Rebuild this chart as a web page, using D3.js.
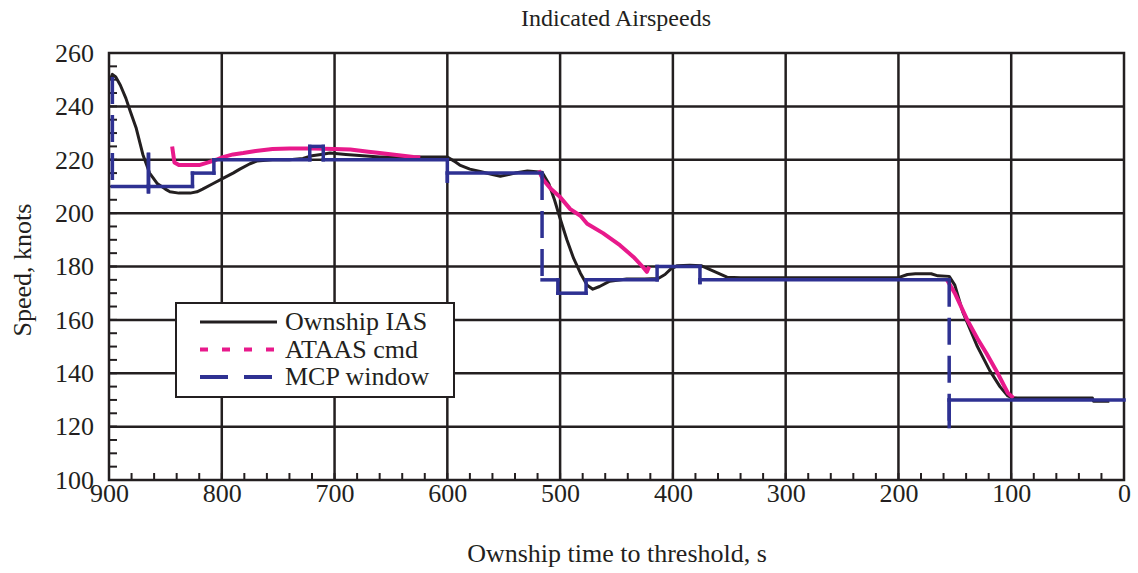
<!DOCTYPE html>
<html>
<head>
<meta charset="utf-8">
<script src="https://cdn.jsdelivr.net/npm/d3@7"></script>
<style>
  body { margin: 0; background: #fff; }
  text { font-family: "Liberation Serif", "Times New Roman", serif; fill: #231f20; }
</style>
</head>
<body>
<svg></svg>
<script>
// time to threshold (s) and speed (knots)
const iasTime = [899, 897, 894, 890, 885, 881, 876, 870, 864, 857, 850, 846, 838, 828, 822, 817, 808, 799, 790, 784, 775, 769, 755, 740, 728, 720, 712, 704, 690, 675, 660, 640, 615, 600, 594, 589, 580, 570, 560, 553, 540, 529, 516, 510, 505, 500, 494, 488, 482, 476, 471, 465, 456, 441, 425, 413, 407, 402, 396, 385, 375, 368, 360, 352, 340, 300, 250, 200, 192, 185, 171, 165, 155, 150, 143, 137, 130, 119, 110, 103, 99, 90, 60, 28, 27, 13];
const iasSpeed = [250, 252, 251, 248, 243, 238, 232, 222, 215, 211, 209, 208, 207.5, 207.5, 208, 209, 211, 213, 215, 216.5, 218.5, 219.5, 220, 220, 220.5, 221.5, 222, 222.5, 222, 221.5, 221, 221, 221, 221, 219.5, 218, 216.5, 215.5, 214.5, 213.8, 215, 215.8, 215.3, 211, 205, 198, 190, 183, 177.5, 173, 171.5, 172.5, 174.5, 175.3, 175.3, 175.5, 177, 179, 180.3, 180.5, 180.3, 179, 177.5, 176, 175.8, 175.8, 175.8, 175.8, 177, 177.3, 177.3, 176.5, 176.3, 173, 163, 157, 150, 141, 135, 131.5, 130.8, 130.7, 130.7, 130.7, 129.5, 129.5];

// null = no ATAAS command shown
const ataasTime = [844, 842, 838, 820, 812, 805, 799, 790, 781, 770, 755, 740, 720, 700, 686, 670, 660, 645, 630, 624, 610, 519, 515, 508, 500, 491, 482, 476, 462, 447, 435, 427, 423, 421, 300, 157, 150, 139, 130, 122, 112, 103, 98];
const ataasSpeed = [225, 219, 218, 218, 219, 220, 221, 222, 222.5, 223.3, 224, 224.2, 224.2, 224, 223.8, 223, 222.5, 221.8, 221, 220.8, null, 216, 212.5, 209, 206, 201.5, 199, 196, 192.5, 188, 183.6, 180, 178, 180, null, 175, 170, 160, 153, 147.5, 140, 132.6, 130.7];

const mcpTime = [897, 897, 865, 865, 865, 865, 826, 826, 807, 807, 722, 722, 710, 710, 600, 600, 600, 516, 516, 502, 502, 477, 477, 414, 414, 376, 376, 376, 155, 155, 155, 0];
const mcpSpeed = [251, 210, 210, 222, 208, 210, 210, 215, 215, 220, 220, 225, 225, 220, 220, 212, 215, 215, 175, 175, 170, 170, 175, 175, 180, 180, 174, 175, 175, 120, 130, 130];

const timeTicks = [900, 800, 700, 600, 500, 400, 300, 200, 100, 0];
const speedTicks = [100, 120, 140, 160, 180, 200, 220, 240, 260];

const legendLabels = ["Ownship IAS", "ATAAS cmd", "MCP window"];

const ink = "#231f20";
const pink = "#e8198b";
const navy = "#2e3192";

const svg = d3.select("svg").attr("width", 1138).attr("height", 573);

const x = d3.scaleLinear().domain([900, 0]).range([109, 1124]);
const y = d3.scaleLinear().domain([100, 260]).range([480, 53]);

// grid
svg.append("g").selectAll("line").data(timeTicks.slice(1, -1)).join("line")
    .attr("x1", d => x(d)).attr("x2", d => x(d))
    .attr("y1", y(260)).attr("y2", y(100))
    .attr("stroke", ink).attr("stroke-width", 2.5);
svg.append("g").selectAll("line").data(speedTicks.slice(1, -1)).join("line")
    .attr("x1", x(900)).attr("x2", x(0))
    .attr("y1", d => y(d)).attr("y2", d => y(d))
    .attr("stroke", ink).attr("stroke-width", 2.5);

// minor ticks
svg.append("g").selectAll("line").data(d3.range(100, 261, 5)).join("line")
    .attr("x1", x(900)).attr("x2", x(900) + 8)
    .attr("y1", d => y(d)).attr("y2", d => y(d))
    .attr("stroke", ink).attr("stroke-width", 2);
svg.append("g").selectAll("line").data(d3.range(0, 901, 20)).join("line")
    .attr("x1", d => x(d)).attr("x2", d => x(d))
    .attr("y1", y(100)).attr("y2", y(100) - 7)
    .attr("stroke", ink).attr("stroke-width", 2);

// frame
svg.append("rect")
    .attr("x", x(900)).attr("y", y(260))
    .attr("width", x(0) - x(900)).attr("height", y(100) - y(260))
    .attr("fill", "none").attr("stroke", ink).attr("stroke-width", 2.5);

// axes
const yAxis = svg.append("g")
    .attr("transform", `translate(${x(900)},0)`)
    .call(d3.axisLeft(y).tickValues(speedTicks).tickSize(0).tickPadding(15));
const xAxis = svg.append("g")
    .attr("transform", `translate(0,${y(100)})`)
    .call(d3.axisBottom(x).tickValues(timeTicks).tickFormat(d3.format("d")).tickSize(0).tickPadding(4));
[yAxis, xAxis].forEach(g => {
    g.select(".domain").remove();
    g.selectAll("text").attr("font-size", 26).attr("fill", ink)
        .style("font-family", '"Liberation Serif", serif');
});

// series
const ias = iasTime.map((t, i) => ({t: t, v: iasSpeed[i]}));
const ataas = ataasTime.map((t, i) => ({t: t, v: ataasSpeed[i]}));
const mcp = mcpTime.map((t, i) => ({t: t, v: mcpSpeed[i]}));

const line = d3.line()
    .defined(d => d.v != null)
    .x(d => x(d.t)).y(d => y(d.v));

svg.append("path").datum(ias)
    .attr("d", line)
    .attr("fill", "none").attr("stroke", ink).attr("stroke-width", 3)
    .attr("stroke-linejoin", "round");

svg.append("path").datum(ataas)
    .attr("d", line)
    .attr("fill", "none").attr("stroke", pink).attr("stroke-width", 4)
    .attr("stroke-linejoin", "round");

// MCP window: steps, long verticals show the dash pattern
const isLongDrop = d => d[0].t === d[1].t && Math.abs(y(d[0].v) - y(d[1].v)) > 45;
svg.append("g").selectAll("line").data(d3.pairs(mcp)).join("line")
    .attr("x1", d => x(d[0].t)).attr("y1", d => y(d[0].v))
    .attr("x2", d => x(d[1].t)).attr("y2", d => y(d[1].v))
    .attr("stroke", navy).attr("stroke-width", 3.5)
    .attr("stroke-linecap", d => isLongDrop(d) ? "butt" : "square")
    .attr("stroke-dasharray", d => isLongDrop(d) ? "27,11" : null);

// legend
const lg = svg.append("g").attr("transform", "translate(176,303)");
lg.append("rect").attr("width", 278).attr("height", 94)
    .attr("fill", "#fff").attr("stroke", ink).attr("stroke-width", 2);
const legendStyle = [
    {color: ink, dash: null, w: 3},
    {color: pink, dash: "8,14", w: 4},
    {color: navy, dash: "28,16", w: 4}
];
legendLabels.forEach((label, i) => {
    const yy = 19 + i * 27.5;
    lg.append("line").attr("x1", 24).attr("x2", 101).attr("y1", yy).attr("y2", yy)
        .attr("stroke", legendStyle[i].color).attr("stroke-width", legendStyle[i].w)
        .attr("stroke-dasharray", legendStyle[i].dash);
    lg.append("text").attr("x", 109).attr("y", yy + 8).attr("font-size", 26).text(label);
});

// titles
svg.append("text").attr("x", 616).attr("y", 26).attr("text-anchor", "middle")
    .attr("font-size", 24).text("Indicated Airspeeds");
svg.append("text").attr("x", 617).attr("y", 562).attr("text-anchor", "middle")
    .attr("font-size", 26).text("Ownship time to threshold, s");
svg.append("text").attr("transform", "translate(31,270) rotate(-90)").attr("text-anchor", "middle")
    .attr("font-size", 26).text("Speed, knots");
</script>
</body>
</html>
